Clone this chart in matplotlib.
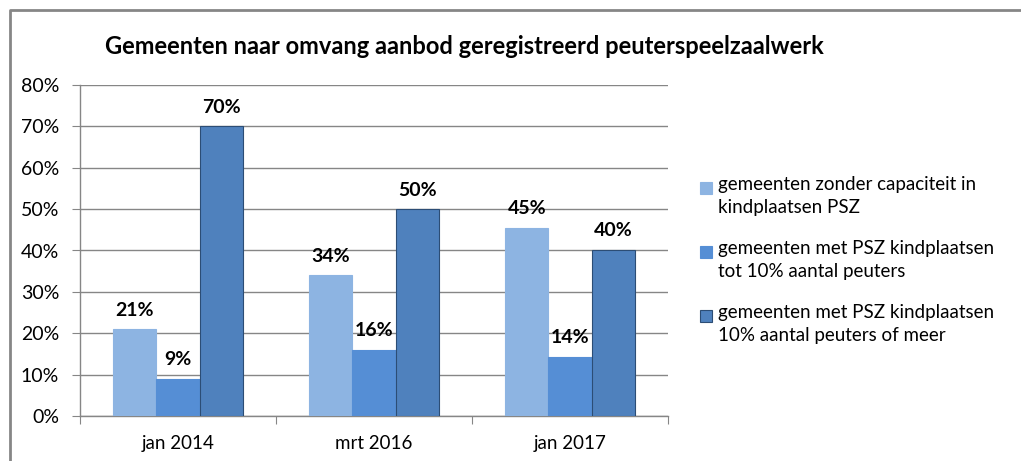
import matplotlib
matplotlib.use("Agg")
import matplotlib.pyplot as plt
from matplotlib.lines import Line2D
from matplotlib.patches import Rectangle
import numpy as np

plt.rcParams['font.family'] = ['Lato', 'DejaVu Sans']

categories = ["jan 2014", "mrt 2016", "jan 2017"]
series_names = [
    "gemeenten zonder capaciteit in\nkindplaatsen PSZ",
    "gemeenten met PSZ kindplaatsen\ntot 10% aantal peuters",
    "gemeenten met PSZ kindplaatsen\n10% aantal peuters of meer",
]
values = [
    [21.0, 34.0, 45.5],
    [9.0, 16.0, 14.3],
    [70.0, 50.0, 40.2],
]
labels = [
    ["21%", "34%", "45%"],
    ["9%", "16%", "14%"],
    ["70%", "50%", "40%"],
]
colors = ["#8DB4E2", "#558ED5", "#4F81BD"]
edges = ["#8DB4E2", "#558ED5", "#2C4D75"]

W, H = 1021, 461
fig = plt.figure(figsize=(W / 100, H / 100), dpi=100)
fig.patch.set_facecolor("white")

# frame border
fig.add_artist(Line2D([10 / W, 10 / W, 1.0], [0.0, 1 - 10 / H, 1 - 10 / H],
                      transform=fig.transFigure, color="#868686", lw=2))

ax = fig.add_axes([80 / W, (H - 416) / H, 588 / W, (416 - 85) / H])
n = len(categories)
x = np.arange(n)
bw = 0.221
for i in range(3):
    pos = x + (i - 1) * bw
    bars = ax.bar(pos, values[i], width=bw, color=colors[i], edgecolor=edges[i],
                  linewidth=0.8, zorder=3)
    for b, lab in zip(bars, labels[i]):
        ax.annotate(lab, (b.get_x() + b.get_width() / 2, b.get_height()),
                    xytext=(0, 7.5), textcoords="offset points", ha="center",
                    va="bottom", fontsize=14, fontweight="bold", color="black",
                    zorder=4)

ax.set_xlim(-0.5, n - 0.5)
ax.set_ylim(0, 80)
ax.set_yticks(np.arange(0, 81, 10))
ax.set_yticklabels([f"{v}%" for v in range(0, 81, 10)], fontsize=14)
ax.yaxis.grid(True, color="#868686", lw=1, zorder=0)
ax.set_axisbelow(True)
ax.set_xticks(np.arange(-0.5, n, 1.0))
ax.set_xticklabels([])
ax.set_xticks(x, minor=True)
ax.set_xticklabels(categories, minor=True, fontsize=13.5)
ax.tick_params(axis="x", which="minor", length=0, pad=14)
ax.tick_params(axis="x", which="major", length=6, color="#868686")
ax.tick_params(axis="y", length=6, color="#868686", pad=9)
for s in ["top", "right"]:
    ax.spines[s].set_visible(False)
for s in ["left", "bottom"]:
    ax.spines[s].set_color("#868686")
    ax.spines[s].set_linewidth(1)

# title
fig.text(105 / W, 1 - 46 / H,
         "Gemeenten naar omvang aanbod geregistreerd peuterspeelzaalwerk",
         ha="left", va="center", fontsize=17, fontweight="bold")

# legend (marker aligned with first text line)
ys = [188, 252, 316]
for i, name in enumerate(series_names):
    fig.add_artist(Rectangle((700 / W, 1 - (ys[i] + 6) / H), 12 / W, 12 / H,
                             transform=fig.transFigure, facecolor=colors[i],
                             edgecolor=edges[i], lw=0.8))
    fig.text(718 / W, 1 - (ys[i] - 12) / H, name, ha="left", va="top",
             fontsize=13.5, linespacing=1.45)

fig.savefig("out.png", dpi=100)
